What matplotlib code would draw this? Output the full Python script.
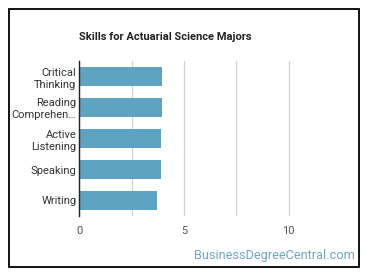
import matplotlib.pyplot as plt
from matplotlib.patches import Rectangle

skills = ['Critical\nThinking', 'Reading\nComprehen\u2026', 'Active\nListening', 'Speaking', 'Writing']
scores = [3.97, 3.97, 3.91, 3.91, 3.72]
x_ticks = [0, 5, 10]

plt.rcParams['font.family'] = ['Roboto', 'DejaVu Sans']

fig = plt.figure(figsize=(3.7, 2.78), dpi=100)
ax = fig.add_axes([79.3 / 370, 1 - 216 / 278, (341 - 79.3) / 370, (216 - 61) / 278])

pos = list(range(len(skills)))
ax.barh(pos, scores, height=0.63, color='#5ea3c1')
ax.set_ylim(len(skills) - 0.5, -0.5)
ax.set_xlim(0, 12.5)
ax.set_yticks(pos)
ax.set_yticklabels(skills, fontsize=8, color='#333333', linespacing=1.25)
ax.set_xticks(x_ticks)
ax.set_xticklabels([str(t) for t in x_ticks], fontsize=8, color='#555555')
ax.set_xticks([2.5, 7.5], minor=True)
ax.tick_params(axis='both', which='both', length=0)
ax.tick_params(axis='y', pad=2)
ax.tick_params(axis='x', pad=7)
ax.grid(axis='x', which='both', color='#d0d0d0', linewidth=0.9)
ax.set_axisbelow(True)
for side in ['top', 'right', 'bottom']:
    ax.spines[side].set_visible(False)
ax.spines['left'].set_color('#222222')
ax.spines['left'].set_linewidth(1)

fig.text(79.3 / 370, 1 - 37 / 278, 'Skills for Actuarial Science Majors', fontsize=8,
         fontweight='bold', color='#222222', ha='left', va='center')
fig.text(355 / 370, 1 - 255.5 / 278, 'BusinessDegreeCentral.com', fontsize=9.2,
         color='#6fa6c6', ha='right', va='center')

fig.patches.append(Rectangle((8.5 / 370, 1 - 267 / 278), (359 - 8.5) / 370, (267 - 8.5) / 278,
                             transform=fig.transFigure, fill=False, edgecolor='black', linewidth=1.3))

fig.savefig('out.png', dpi=100)
